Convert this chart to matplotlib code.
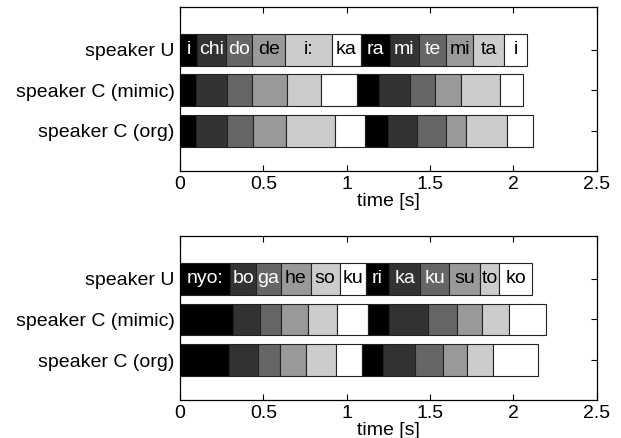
import matplotlib.pyplot as plt
import numpy as np

plt.rcParams['font.family'] = ['Liberation Sans', 'DejaVu Sans']

# Row labels (top to bottom)
rows = ['speaker U', 'speaker C (mimic)', 'speaker C (org)']

# Panel 1: "ichidode i: karamitemitai"
syll_1 = ['i', 'chi', 'do', 'de', 'i:', 'ka', 'ra', 'mi', 'te', 'mi', 'ta', 'i']
ends_1_U = [0.102, 0.278, 0.433, 0.629, 0.913, 1.083, 1.258, 1.434, 1.598, 1.759, 1.945, 2.081]
ends_1_mimic = [0.098, 0.282, 0.433, 0.639, 0.843, 1.063, 1.194, 1.380, 1.530, 1.688, 1.921, 2.055]
ends_1_org = [0.098, 0.282, 0.438, 0.633, 0.929, 1.109, 1.250, 1.424, 1.594, 1.714, 1.961, 2.115]

# Panel 2: "nyo: bogahesoku rikakusutoko"
syll_2 = ['nyo:', 'bo', 'ga', 'he', 'so', 'ku', 'ri', 'ka', 'ku', 'su', 'to', 'ko']
ends_2_U = [0.298, 0.458, 0.603, 0.783, 0.959, 1.113, 1.254, 1.440, 1.615, 1.799, 1.915, 2.110]
ends_2_mimic = [0.318, 0.478, 0.603, 0.769, 0.939, 1.128, 1.254, 1.489, 1.661, 1.809, 1.971, 2.195]
ends_2_org = [0.292, 0.468, 0.599, 0.753, 0.937, 1.090, 1.220, 1.410, 1.575, 1.719, 1.880, 2.149]

shades = ['#000000', '#333333', '#666666', '#999999', '#cccccc', '#ffffff']
fs = 14


def draw_panel(ax, syll, ends_rows):
    ypos = [3, 2, 1]
    for y, ends in zip(ypos, ends_rows):
        ends = np.asarray(ends)
        starts = np.concatenate([[0.0], ends[:-1]])
        cols = [shades[i % len(shades)] for i in range(len(ends))]
        ax.barh(y, ends - starts, left=starts, height=0.78, color=cols,
                edgecolor='#222222', linewidth=0.8)
        if y == 3:
            for i, (s, e) in enumerate(zip(starts, ends)):
                tc = 'white' if i % len(shades) < 3 else 'black'
                ax.text((s + e) / 2, y, syll[i], ha='center', va='center',
                        color=tc, fontsize=fs)
    ax.set_xlim(0, 2.5)
    ax.set_ylim(0.02, 4.05)
    ax.set_yticks(ypos)
    ax.set_yticklabels(rows, fontsize=fs)
    ax.set_xticks([0, 0.5, 1, 1.5, 2, 2.5])
    ax.set_xticklabels(['0', '0.5', '1', '1.5', '2', '2.5'], fontsize=fs)
    ax.tick_params(direction='in', top=True, right=True, length=4,
                   width=0.8, pad=4)
    ax.tick_params(axis='y', pad=4)
    ax.set_xlabel('time [s]', fontsize=fs, labelpad=0)
    for sp in ax.spines.values():
        sp.set_linewidth(0.9)


fig = plt.figure(figsize=(6.21, 4.38), dpi=100)
ax1 = fig.add_axes([0.290, 0.610, 0.671, 0.374])
ax2 = fig.add_axes([0.290, 0.087, 0.671, 0.374])

draw_panel(ax1, syll_1, [ends_1_U, ends_1_mimic, ends_1_org])
draw_panel(ax2, syll_2, [ends_2_U, ends_2_mimic, ends_2_org])

fig.savefig('out.png', dpi=100)
